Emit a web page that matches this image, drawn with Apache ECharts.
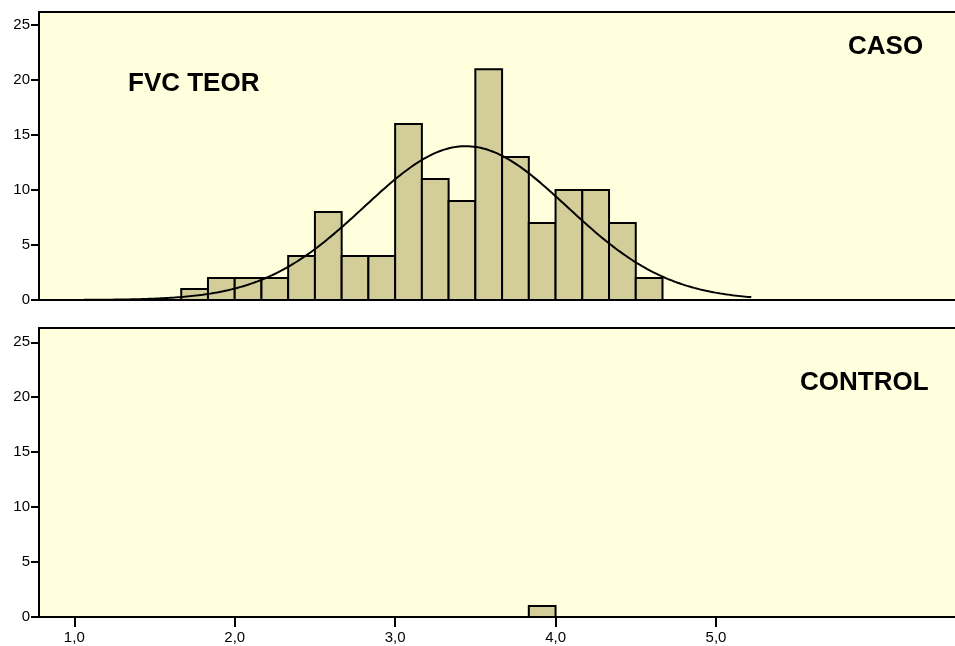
<!DOCTYPE html>
<html>
<head>
<meta charset="utf-8">
<script src="https://cdn.jsdelivr.net/npm/echarts@6/dist/echarts.min.js"></script>
<style>
  html, body { margin: 0; padding: 0; background: #ffffff; overflow: hidden; }
  #chart { width: 955px; height: 646px; }
</style>
</head>
<body>
<div id="chart"></div>
<script>
// Histogram bins of FVC TEOR (bin width 1/6)
const binStarts = [1.6667, 1.8333, 2.0, 2.1667, 2.3333, 2.5, 2.6667, 2.8333, 3.0,
                   3.1667, 3.3333, 3.5, 3.6667, 3.8333, 4.0, 4.1667, 4.3333, 4.5];
const binWidth = 1 / 6;
const casoCounts = [1, 2, 2, 2, 4, 8, 4, 4, 16, 11, 9, 21, 13, 7, 10, 10, 7, 2];
const controlCounts = [0, 0, 0, 0, 0, 0, 0, 0, 0, 0, 0, 0, 0, 1, 0, 0, 0, 0];

// Fitted normal curve for CASO
const casoMean = 3.44;
const casoSd = 0.632;
const curveFrom = 0.78;
const curveTo = 5.22;

const xTicks = [1, 2, 3, 4, 5];
const yTicks = [0, 5, 10, 15, 20, 25];
const panelLabels = ['CASO', 'CONTROL'];
const variableName = 'FVC TEOR';

const casoN = casoCounts.reduce((a, b) => a + b, 0);
const curve = [];
for (let i = 0; i <= 300; i++) {
  const x = curveFrom + (curveTo - curveFrom) * i / 300;
  const z = (x - casoMean) / casoSd;
  const y = casoN * binWidth * Math.exp(-0.5 * z * z) / (casoSd * Math.sqrt(2 * Math.PI));
  curve.push([x, y]);
}

function binData(counts) {
  return counts.map((c, i) => [binStarts[i], binStarts[i] + binWidth, c]).filter(d => d[2] > 0);
}

function renderBin(params, api) {
  const p0 = api.coord([api.value(0), api.value(2)]);
  const p1 = api.coord([api.value(1), 0]);
  return {
    type: 'rect',
    shape: { x: p0[0], y: p0[1], width: p1[0] - p0[0], height: p1[1] - p0[1] },
    style: { fill: '#d3ce99', stroke: '#000000', lineWidth: 2 }
  };
}

const fontFam = '"Liberation Sans", Arial, sans-serif';
const X_MIN = 0.78, X_MAX = 6.49;

function xAxis(idx, showLabels) {
  return {
    type: 'value', gridIndex: idx, min: X_MIN, max: X_MAX, position: 'bottom',
    splitLine: { show: false },
    axisLine: { show: true, onZero: false, lineStyle: { color: '#000', width: 2 } },
    axisTick: { show: showLabels, customValues: xTicks, length: 10, inside: false,
                lineStyle: { color: '#000', width: 2 } },
    axisLabel: { show: showLabels, customValues: xTicks, color: '#000', fontSize: 15,
                 fontFamily: fontFam, margin: 13,
                 formatter: v => v.toFixed(1).replace('.', ',') }
  };
}

// Frame line along the top of each panel
function topFrame(idx) {
  return {
    type: 'value', gridIndex: idx, min: X_MIN, max: X_MAX, position: 'top',
    splitLine: { show: false },
    axisLine: { show: true, onZero: false, lineStyle: { color: '#000', width: 2 } },
    axisTick: { show: false }, axisLabel: { show: false }
  };
}

function yAxis(idx, max) {
  return {
    type: 'value', gridIndex: idx, min: 0, max: max,
    splitLine: { show: false },
    axisLine: { show: true, lineStyle: { color: '#000', width: 2 } },
    axisTick: { show: true, customValues: yTicks, length: 8, lineStyle: { color: '#000', width: 2 } },
    axisLabel: { customValues: yTicks, color: '#000', fontSize: 15, fontFamily: fontFam, margin: 9 }
  };
}

const titleStyle = { fontSize: 26, fontWeight: 'bold', color: '#000', fontFamily: fontFam };

const chart = echarts.init(document.getElementById('chart'), null, { renderer: 'canvas' });
chart.setOption({
  animation: false,
  backgroundColor: '#ffffff',
  grid: [
    { left: 39, right: 0, top: 12, height: 288, show: true, backgroundColor: '#ffffdd',
      borderWidth: 0 },
    { left: 39, right: 0, top: 328, height: 289, show: true, backgroundColor: '#ffffdd',
      borderWidth: 0 }
  ],
  xAxis: [xAxis(0, false), xAxis(1, true), topFrame(0), topFrame(1)],
  yAxis: [yAxis(0, 26.2), yAxis(1, 26.3)],
  title: [
    { text: variableName, left: 128, top: 71, padding: 0, textStyle: titleStyle },
    { text: panelLabels[0], left: 848, top: 34, padding: 0, textStyle: titleStyle },
    { text: panelLabels[1], left: 800, top: 370, padding: 0, textStyle: titleStyle }
  ],
  series: [
    { type: 'custom', xAxisIndex: 0, yAxisIndex: 0, renderItem: renderBin,
      data: binData(casoCounts), encode: { x: [0, 1], y: 2 }, z: 2 },
    { type: 'custom', xAxisIndex: 1, yAxisIndex: 1, renderItem: renderBin,
      data: binData(controlCounts), encode: { x: [0, 1], y: 2 }, z: 2 },
    { type: 'line', xAxisIndex: 0, yAxisIndex: 0, data: curve, showSymbol: false,
      smooth: false, lineStyle: { color: '#000', width: 2 }, z: 3 }
  ]
});
</script>
</body>
</html>
